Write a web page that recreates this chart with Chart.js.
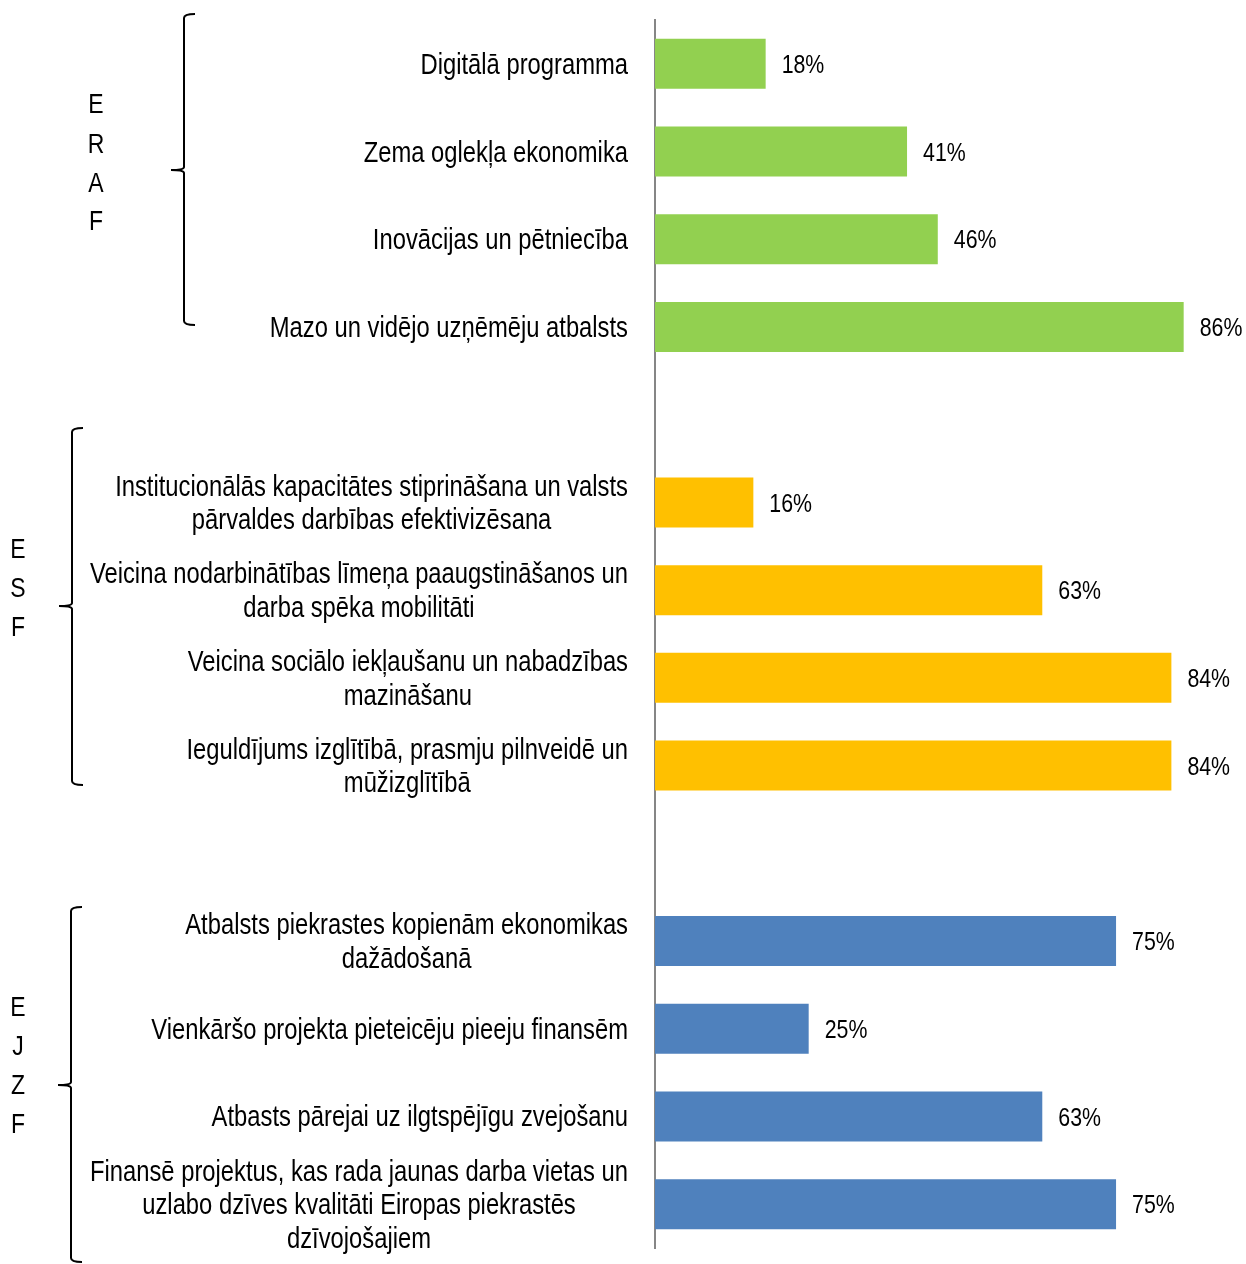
<!DOCTYPE html>
<html>
<head>
<meta charset="utf-8">
<script src="https://cdn.jsdelivr.net/npm/chart.js@4"></script>
<style>
body { margin: 0; background: #fff; }
</style>
</head>
<body>
<canvas id="grafiks" width="1246" height="1264"></canvas>
<script>
// grupas
var grupas = ['ERAF', 'ESF', 'EJZF'];
var krasas = ['#92D050', '#FFC000', '#4F81BD'];

var erafNosaukumi = [
	['Digitālā programma'],
	['Zema oglekļa ekonomika'],
	['Inovācijas un pētniecība'],
	['Mazo un vidējo uzņēmēju atbalsts']
];
var erafVertibas = [18, 41, 46, 86];

var esfNosaukumi = [
	['Institucionālās kapacitātes stiprināšana un valsts', 'pārvaldes darbības efektivizēsana'],
	['Veicina nodarbinātības līmeņa paaugstināšanos un', 'darba spēka mobilitāti'],
	['Veicina sociālo iekļaušanu un nabadzības', 'mazināšanu'],
	['Ieguldījums izglītībā, prasmju pilnveidē un', 'mūžizglītībā']
];
var esfVertibas = [16, 63, 84, 84];

var ejzfNosaukumi = [
	['Atbalsts piekrastes kopienām ekonomikas', 'dažādošanā'],
	['Vienkāršo projekta pieteicēju pieeju finansēm'],
	['Atbasts pārejai uz ilgtspējīgu zvejošanu'],
	['Finansē projektus, kas rada jaunas darba vietas un', 'uzlabo dzīves kvalitāti Eiropas piekrastēs', 'dzīvojošajiem']
];
var ejzfVertibas = [75, 25, 63, 75];

// sastāda kopējo sarakstu ar tukšu rindu starp grupām
var nosaukumi = [], vertibas = [], fons = [];
[[erafNosaukumi, erafVertibas], [esfNosaukumi, esfVertibas], [ejzfNosaukumi, ejzfVertibas]].forEach(function(g, i) {
	if (i > 0) { nosaukumi.push(['']); vertibas.push(null); fons.push('rgba(0,0,0,0)'); }
	g[0].forEach(function(n, j) {
		nosaukumi.push(n);
		vertibas.push(g[1][j]);
		fons.push(krasas[i]);
	});
});

var FONTS = '"Liberation Sans", Arial, sans-serif';
var SASPIEST = 0.82; // "narrow" fonta imitācija

function teksts(ctx, t, x, y, align) {
	ctx.save();
	ctx.translate(x, y);
	ctx.scale(SASPIEST, 1);
	ctx.textAlign = align;
	ctx.fillText(t, 0, 0);
	ctx.restore();
}

var uzraksti = {
	id: 'uzraksti',
	afterDraw: function(chart) {
		var ctx = chart.ctx;
		var y = chart.scales.y, x = chart.scales.x;
		ctx.save();
		ctx.fillStyle = '#000';
		ctx.textBaseline = 'middle';
		ctx.font = '29px ' + FONTS;
		// kategoriju nosaukumi, centrēti blokā, labā mala pie 628
		nosaukumi.forEach(function(rindas, i) {
			var cy = y.getPixelForValue(i) + 2;
			var maxW = 0;
			rindas.forEach(function(r) { maxW = Math.max(maxW, ctx.measureText(r).width * SASPIEST); });
			var cx = 628 - maxW / 2;
			var lh = 33.5;
			var start = cy - (rindas.length - 1) * lh / 2;
			rindas.forEach(function(r, k) { teksts(ctx, r, cx, start + k * lh, 'center'); });
		});
		// vērtības
		ctx.font = '26px ' + FONTS;
		vertibas.forEach(function(v, i) {
			if (v === null) return;
			teksts(ctx, v + '%', x.getPixelForValue(v) + 16, y.getPixelForValue(i) + 2, 'left');
		});
		// iekavas un grupu burti
		var iekavas = [
			{ x: 184, top: 14, bot: 325, mid: 170, lx: 96, ly: [105, 145, 184, 222] },
			{ x: 72, top: 428, bot: 785, mid: 606, lx: 18, ly: [550, 589, 628] },
			{ x: 71, top: 907, bot: 1262, mid: 1085, lx: 18, ly: [1008, 1047, 1086, 1125] }
		];
		ctx.strokeStyle = '#000';
		ctx.lineWidth = 2;
		ctx.font = '28px ' + FONTS;
		iekavas.forEach(function(b, i) {
			ctx.beginPath();
			ctx.moveTo(b.x + 11, b.top);
			ctx.quadraticCurveTo(b.x, b.top, b.x, b.top + 4);
			ctx.lineTo(b.x, b.mid - 3);
			ctx.quadraticCurveTo(b.x, b.mid, b.x - 13, b.mid);
			ctx.moveTo(b.x - 13, b.mid);
			ctx.quadraticCurveTo(b.x, b.mid, b.x, b.mid + 3);
			ctx.lineTo(b.x, b.bot - 4);
			ctx.quadraticCurveTo(b.x, b.bot, b.x + 11, b.bot);
			ctx.stroke();
			grupas[i].split('').forEach(function(c, k) { teksts(ctx, c, b.lx, b.ly[k], 'center'); });
		});
		ctx.restore();
	}
};

var grafiks = new Chart(document.getElementById('grafiks').getContext('2d'), {
	type: 'bar',
	data: {
		labels: nosaukumi.map(function(n) { return n.join(' '); }),
		datasets: [{
			data: vertibas,
			backgroundColor: fons,
			barPercentage: 0.57,
			categoryPercentage: 1
		}]
	},
	options: {
		indexAxis: 'y',
		responsive: false,
		animation: false,
		layout: { padding: { left: 655, right: 7, top: 20, bottom: 16 } },
		plugins: { legend: { display: false }, tooltip: { enabled: false } },
		scales: {
			x: { display: false, min: 0, max: 95 },
			y: {
				ticks: { display: false },
				grid: { display: false, drawTicks: false },
				border: { display: true, color: '#868686', width: 2 }
			}
		}
	},
	plugins: [uzraksti]
});
</script>
</body>
</html>
